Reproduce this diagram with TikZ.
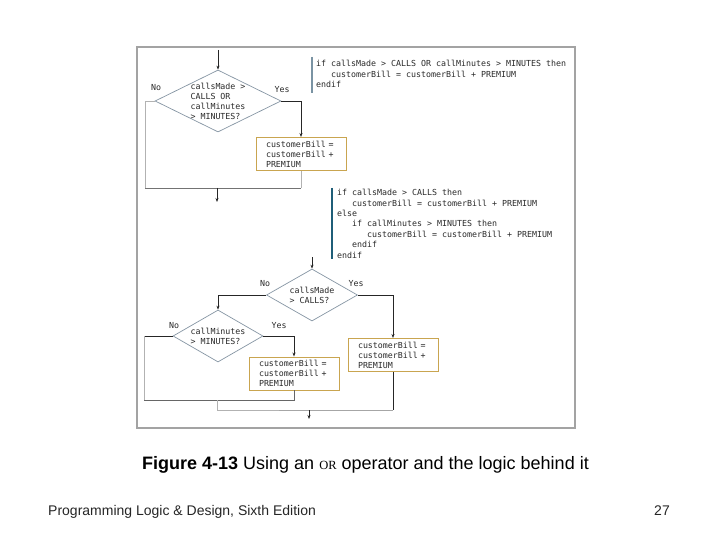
\documentclass[tikz,border=0pt]{standalone}
\usepackage{fontspec}
\setmainfont{Liberation Sans}
\newfontfamily\codefont{DejaVu Sans Mono}
\newfontfamily\orfont{Liberation Serif}
\usetikzlibrary{shapes.geometric,arrows.meta}
\definecolor{framegray}{HTML}{A3A3A3}
\definecolor{diagray}{HTML}{8696A4}
\definecolor{boxgold}{HTML}{C9A550}
\definecolor{barone}{HTML}{7A93A3}
\definecolor{bartwo}{HTML}{1F5E78}
\definecolor{codeink}{HTML}{2A2A2A}
\begin{document}
\begin{tikzpicture}[x=1pt,y=-1pt,
  code/.style={font=\codefont\fontsize{8.3}{10}\selectfont, text=codeink, align=left, inner sep=0pt},
  pcode/.style={code, font=\codefont\fontsize{8.3}{10.4}\selectfont, anchor=north west},
  dia/.style={draw=diagray, line width=0.7pt, shape=diamond, inner sep=0pt},
  dtext/.style={code},
  procbox/.style={code, draw=boxgold, line width=0.9pt, minimum width=90pt, minimum height=33pt, text width=70pt, inner xsep=10pt, inner ysep=0pt},
  conn/.style={draw=black!85, line width=0.8pt},
  faint/.style={draw=black!30, line width=0.7pt},
  arr/.style={conn, -{Stealth[length=4pt,width=3pt]}},
  lbl/.style={code, font=\codefont\fontsize{8.3}{10}\selectfont},
]
\useasboundingbox (0,0) rectangle (720,540);
\fill[white] (0,0) rectangle (720,540);
% frame
\draw[framegray, line width=1.2pt] (137,47) rectangle (575,428);

% ---------- top flowchart ----------
\node[dia, minimum width=126pt, minimum height=62pt,
  label={[dtext]center:{callsMade >\\CALLS OR\\callMinutes\\> MINUTES?}}] (d1) at (218,101) {};
\node[procbox] (b1) at (301,154) {customerBill =\\customerBill +\\PREMIUM};
\coordinate (in1) at (218,50);
\coordinate (m1L) at (145,188);
\coordinate (m1R) at (301,188);
\coordinate (m1M) at (217,188);
\coordinate (out1) at (217,202);
\node[lbl, anchor=base] (no1) at (156,91) {No};
\node[lbl, anchor=base] (yes1) at (282,93) {Yes};
\draw[arr] (in1) -- (d1.north);
\draw[faint] (d1.west) -| (m1L);
\draw[arr] (d1.east) -| (b1.north);
\draw[faint] (b1.south) -- (m1R);
\draw[conn, draw=black!55] (m1L) -- (m1R);
\draw[arr] (m1M) -- (out1);

% pseudocode 1
\draw[barone, line width=2pt] (312,57) -- (312,93);
\node[pcode] (pc1) at (316,60.2) {if callsMade > CALLS OR callMinutes > MINUTES then\\
\hspace*{15pt}customerBill = customerBill + PREMIUM\\
endif};

% pseudocode 2
\draw[bartwo, line width=2.4pt] (332,188) -- (332,259);
\node[pcode] (pc2) at (337,189.2) {if callsMade > CALLS then\\
\hspace*{15pt}customerBill = customerBill + PREMIUM\\
else\\
\hspace*{15pt}if callMinutes > MINUTES then\\
\hspace*{30pt}customerBill = customerBill + PREMIUM\\
\hspace*{15pt}endif\\
endif};

% ---------- bottom flowchart ----------
\node[dia, minimum width=91pt, minimum height=52pt,
  label={[dtext]center:{callsMade\\> CALLS?}}] (d2) at (312,295) {};
\node[dia, minimum width=90pt, minimum height=52pt,
  label={[dtext]center:{callMinutes\\> MINUTES?}}] (d3) at (218,336) {};
\node[procbox] (b2) at (393,355) {customerBill =\\customerBill +\\PREMIUM};
\node[procbox] (b3) at (294,373.5) {customerBill =\\customerBill +\\PREMIUM};
\node[lbl, anchor=base] (no2) at (265,286) {No};
\node[lbl, anchor=base] (yes2) at (356,286) {Yes};
\node[lbl, anchor=base] (no3) at (174,328) {No};
\node[lbl, anchor=base] (yes3) at (279,328) {Yes};
\coordinate (in2) at (312,257);
\coordinate (m3L) at (144,400);
\coordinate (m3R) at (294,400);
\coordinate (m3M) at (217,400);
\coordinate (m4L) at (217,410);
\coordinate (m4x) at (279,410);
\coordinate (m4R) at (393,410);
\coordinate (m4M) at (309,410);
\coordinate (out2) at (309,419);
\draw[arr] (in2) -- (d2.north);
\draw[arr] (d2.west) -| (d3.north);
\draw[arr] (d2.east) -| (b2.north);
\draw[conn] (d3.west) -- (d3.west -| m3L);
\draw[faint] (d3.west -| m3L) -- (m3L);
\draw[arr] (d3.east) -| (b3.north);
\draw[conn, draw=black!60] (b3.south) -- (m3R) -- (m3L);
\draw[faint] (m3M) -- (m4L) -- (m4x);
\draw[conn, draw=black!35] (m4x) -- (m4R);
\draw[conn] (b2.south) -- (m4R);
\draw[arr] (m4M) -- (out2);

% ---------- caption and footer ----------
\node[anchor=base west, inner sep=0pt] (cap) at (142,469)
  {\fontsize{18}{21}\selectfont\textbf{Figure 4-13} Using an {\orfont\fontsize{12.5}{15}\selectfont OR} operator and the logic behind it};
\node[anchor=base west, inner sep=0pt, text=black!85] (foot) at (48,515)
  {\fontsize{14}{17}\selectfont Programming Logic \& Design, Sixth Edition};
\node[anchor=base east, inner sep=0pt, text=black!85] (pg) at (670,515)
  {\fontsize{14}{17}\selectfont 27};
\end{tikzpicture}
\end{document}
